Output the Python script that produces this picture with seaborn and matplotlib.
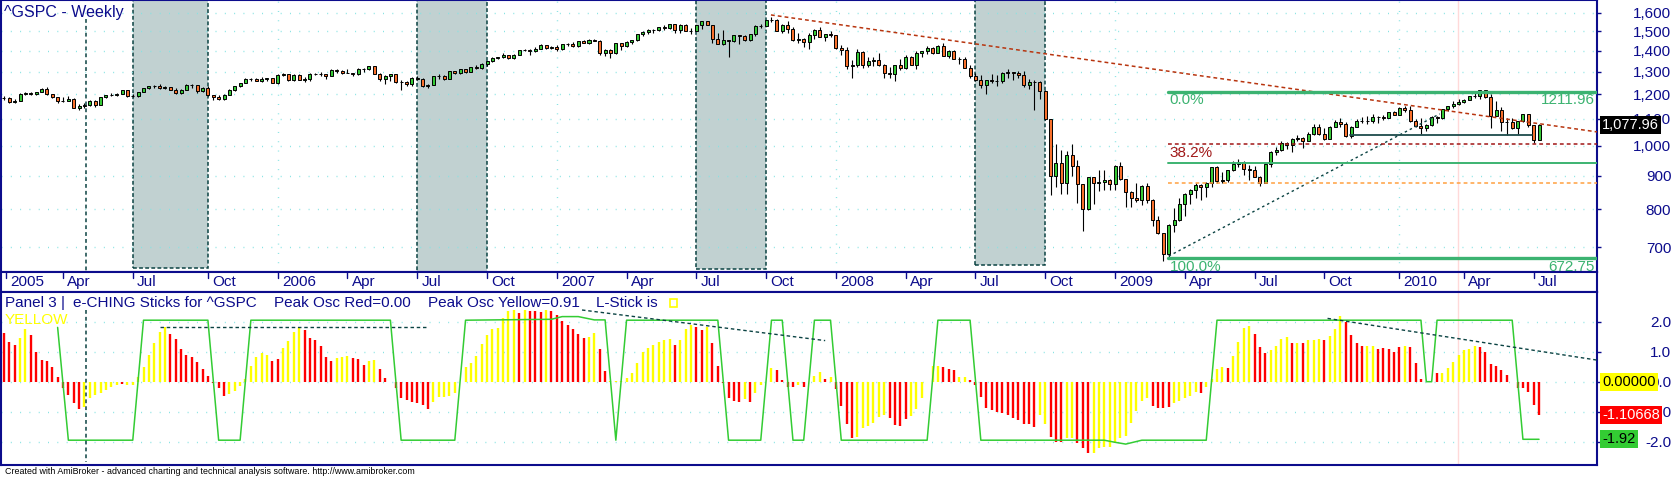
import numpy as np
import matplotlib
matplotlib.use("Agg")
import matplotlib.pyplot as plt
import matplotlib.transforms as mtransforms
from matplotlib.patches import Rectangle
from matplotlib.ticker import NullLocator, NullFormatter
import seaborn as sns

# tema base (fonte definida depois do seaborn)
sns.set_style("white")
plt.rcParams["font.family"] = ["Liberation Sans", "DejaVu Sans"]

# ===============================================================
# DADOS - ^GSPC semanal (jan/2005 .. jul/2010)
# ===============================================================
first_open = 1212

close_2005 = [1186, 1185, 1168, 1171, 1203, 1205, 1202, 1211, 1222, 1200, 1190, 1171, 1173, 1181, 1143, 1152, 1157,
              1171, 1154, 1189, 1199, 1196, 1201, 1217, 1192, 1194, 1212, 1228, 1234, 1234, 1226, 1230, 1220, 1205,
              1218, 1241, 1238, 1215, 1229, 1196, 1187, 1180, 1198, 1220, 1235, 1248, 1268, 1265, 1259, 1267, 1269, 1248]
high_2005 = [1217, 1194, 1188, 1180, 1204, 1208, 1212, 1212, 1225, 1230, 1201, 1190, 1189, 1191, 1186, 1159, 1162,
             1178, 1178, 1190, 1199, 1205, 1206, 1220, 1219, 1201, 1212, 1229, 1236, 1238, 1245, 1237, 1232, 1226,
             1222, 1243, 1243, 1238, 1232, 1234, 1197, 1198, 1200, 1223, 1235, 1249, 1269, 1270, 1273, 1275, 1272, 1270]
low_2005 = [1183, 1176, 1163, 1163, 1170, 1196, 1198, 1198, 1210, 1198, 1185, 1163, 1166, 1172, 1142, 1137, 1143,
            1150, 1146, 1154, 1185, 1191, 1192, 1200, 1190, 1188, 1190, 1210, 1224, 1228, 1224, 1222, 1217, 1203,
            1201, 1218, 1228, 1205, 1212, 1192, 1176, 1176, 1175, 1198, 1216, 1230, 1247, 1257, 1256, 1255, 1260, 1248]

close_2006 = [1285, 1288, 1261, 1284, 1264, 1267, 1287, 1289, 1287, 1281, 1307, 1303, 1295, 1296, 1289, 1311, 1311,
              1326, 1291, 1267, 1280, 1288, 1252, 1252, 1245, 1270, 1265, 1236, 1240, 1279, 1279, 1267, 1302, 1295,
              1311, 1299, 1320, 1315, 1336, 1350, 1366, 1369, 1377, 1364, 1381, 1401, 1401, 1397, 1410, 1427, 1411, 1418]
high_2006 = [1290, 1295, 1290, 1287, 1287, 1275, 1292, 1294, 1297, 1288, 1310, 1310, 1307, 1310, 1296, 1318, 1318,
             1327, 1326, 1295, 1285, 1290, 1288, 1262, 1259, 1275, 1280, 1270, 1246, 1280, 1288, 1283, 1302, 1303,
             1312, 1314, 1320, 1329, 1340, 1350, 1367, 1370, 1390, 1381, 1385, 1403, 1407, 1407, 1416, 1431, 1430, 1425]
low_2006 = [1245, 1280, 1260, 1259, 1262, 1253, 1260, 1283, 1279, 1268, 1281, 1295, 1291, 1294, 1280, 1285, 1300,
            1306, 1290, 1260, 1245, 1260, 1248, 1219, 1235, 1237, 1261, 1231, 1225, 1238, 1265, 1262, 1267, 1289,
            1290, 1294, 1297, 1310, 1314, 1327, 1346, 1357, 1364, 1360, 1360, 1378, 1396, 1377, 1394, 1407, 1406, 1406]

close_2007 = [1410, 1431, 1431, 1422, 1448, 1438, 1456, 1451, 1387, 1403, 1387, 1436, 1421, 1444, 1453, 1484, 1494,
              1506, 1506, 1523, 1516, 1536, 1508, 1533, 1503, 1503, 1530, 1553, 1534, 1459, 1433, 1454, 1446, 1479,
              1474, 1454, 1484, 1526, 1527, 1558, 1562, 1501, 1535, 1510, 1454, 1459, 1441, 1481, 1505, 1468, 1484, 1478]
high_2007 = [1430, 1432, 1436, 1441, 1450, 1453, 1457, 1461, 1456, 1410, 1409, 1438, 1437, 1446, 1453, 1485, 1499,
             1510, 1513, 1523, 1530, 1536, 1540, 1539, 1538, 1514, 1534, 1555, 1556, 1534, 1488, 1504, 1456, 1480,
             1481, 1482, 1485, 1530, 1538, 1560, 1576, 1565, 1536, 1552, 1521, 1492, 1462, 1488, 1510, 1523, 1485, 1499]
low_2007 = [1398, 1404, 1424, 1416, 1420, 1437, 1431, 1448, 1380, 1374, 1364, 1384, 1405, 1418, 1433, 1448, 1476,
            1484, 1490, 1498, 1505, 1510, 1490, 1492, 1502, 1484, 1500, 1510, 1530, 1440, 1432, 1430, 1371, 1445,
            1432, 1450, 1450, 1475, 1516, 1527, 1548, 1500, 1490, 1492, 1450, 1439, 1416, 1406, 1460, 1467, 1446, 1468]

close_2008 = [1412, 1401, 1325, 1331, 1395, 1331, 1350, 1353, 1331, 1293, 1288, 1330, 1315, 1370, 1333, 1390, 1398,
              1414, 1388, 1425, 1376, 1400, 1361, 1360, 1318, 1278, 1263, 1239, 1261, 1258, 1260, 1296, 1298, 1292,
              1283, 1242, 1252, 1255, 1213, 1099, 899, 941, 877, 969, 931, 873, 800, 896, 876, 880, 888, 873]
high_2008 = [1478, 1429, 1420, 1355, 1406, 1396, 1368, 1367, 1389, 1335, 1321, 1331, 1359, 1380, 1375, 1396, 1399,
             1421, 1416, 1426, 1440, 1405, 1404, 1371, 1370, 1333, 1292, 1285, 1262, 1291, 1285, 1300, 1314, 1300,
             1304, 1303, 1266, 1263, 1256, 1220, 1099, 1007, 985, 984, 1007, 952, 873, 897, 896, 918, 919, 889]
low_2008 = [1410, 1380, 1312, 1270, 1322, 1316, 1321, 1327, 1326, 1272, 1270, 1257, 1308, 1313, 1330, 1314, 1370,
            1385, 1382, 1386, 1373, 1362, 1358, 1335, 1316, 1272, 1260, 1226, 1200, 1250, 1236, 1247, 1269, 1261,
            1270, 1233, 1222, 1134, 1180, 1097, 840, 866, 845, 845, 900, 819, 741, 798, 815, 852, 857, 857]

close_2009 = [932, 890, 850, 832, 826, 869, 827, 770, 735, 683, 757, 769, 816, 843, 857, 870, 866, 878, 929, 883,
              887, 919, 940, 946, 921, 919, 896, 879, 940, 979, 987, 1010, 1004, 1026, 1029, 1016, 1043, 1068, 1044,
              1025, 1071, 1088, 1080, 1036, 1069, 1093, 1091, 1091, 1106, 1106, 1102, 1126, 1115]
high_2009 = [935, 944, 890, 852, 878, 870, 876, 828, 780, 735, 758, 804, 832, 846, 859, 876, 875, 882, 930, 932,
             911, 920, 950, 956, 947, 934, 931, 898, 943, 982, 996, 1018, 1013, 1028, 1040, 1031, 1049, 1080, 1080,
             1066, 1072, 1097, 1102, 1087, 1074, 1100, 1106, 1111, 1119, 1110, 1117, 1127, 1130]
low_2009 = [857, 888, 805, 805, 822, 812, 818, 754, 734, 667, 673, 739, 767, 780, 814, 831, 826, 836, 866, 878,
            879, 880, 917, 930, 904, 888, 896, 869, 878, 930, 969, 984, 990, 979, 1016, 992, 1016, 1041, 1041,
            1020, 1026, 1070, 1071, 1034, 1030, 1069, 1085, 1080, 1086, 1085, 1095, 1102, 1115]

close_2010 = [1145, 1136, 1092, 1074, 1066, 1076, 1109, 1104, 1139, 1150, 1160, 1167, 1178, 1194, 1192, 1217, 1187,
              1111, 1136, 1088, 1089, 1065, 1092, 1118, 1077, 1023, 1078]
high_2010 = [1146, 1150, 1150, 1101, 1104, 1080, 1112, 1112, 1139, 1151, 1170, 1181, 1181, 1194, 1214, 1220, 1220,
             1200, 1173, 1148, 1104, 1105, 1092, 1120, 1119, 1078, 1080]
low_2010 = [1115, 1127, 1090, 1071, 1045, 1056, 1074, 1086, 1101, 1133, 1145, 1155, 1165, 1175, 1186, 1181, 1185,
            1066, 1111, 1056, 1040, 1060, 1043, 1088, 1071, 1011, 1022]

# e-CHING sticks (histograma) e cor de cada barra (R = vermelho, Y = amarelo)
osc_2005 = [1.70, 1.63, 1.33, 1.22, 1.44, 1.74, 1.56, 1.00, 0.72, 0.70, 0.48, 0.14, -0.22, -0.44, -0.70, -0.92,
            -0.83, -0.56, -0.44, -0.37, -0.28, -0.17, -0.11, -0.08, -0.11, -0.11, 0.17, 0.50, 0.89, 1.30, 1.64,
            1.81, 1.59, 1.41, 1.09, 0.89, 0.81, 0.64, 0.41, 0.19, -0.05, -0.22, -0.48, -0.41, -0.31, -0.14, 0.10,
            0.52, 0.81, 0.97, 0.89, 0.70]
osc_2006 = [0.74, 1.11, 1.37, 1.67, 1.81, 1.72, 1.47, 1.39, 1.19, 0.81, 0.70, 0.78, 0.81, 0.86, 0.80, 0.74, 0.56,
            0.70, 0.72, 0.42, 0.13, 0.00, -0.20, -0.56, -0.61, -0.67, -0.70, -0.78, -0.92, -0.67, -0.52, -0.52,
            -0.48, -0.37, 0.00, 0.50, 0.61, 0.86, 1.26, 1.56, 1.74, 1.78, 2.11, 2.37, 2.39, 2.30, 2.39, 2.37, 2.37,
            2.33, 2.39, 2.37]
osc_2007 = [2.22, 2.03, 1.89, 1.74, 1.59, 1.44, 1.50, 1.63, 1.09, 0.37, 0.02, 0.02, 0.03, 0.11, 0.30, 0.61, 1.00,
            1.11, 1.22, 1.33, 1.39, 1.42, 1.22, 1.39, 1.74, 1.89, 1.81, 1.72, 1.83, 1.30, 0.52, -0.05, -0.56, -0.63,
            -0.67, -0.59, -0.67, -0.39, -0.11, 0.00, 0.47, 0.39, 0.06, -0.17, -0.19, -0.11, -0.19, 0.00, 0.19, 0.33,
            0.10, 0.14]
osc_2008 = [-0.26, -0.81, -1.41, -1.89, -1.83, -1.56, -1.48, -1.39, -1.19, -1.11, -1.22, -1.44, -1.47, -1.26, -1.13,
            -0.92, -0.53, 0.00, 0.52, 0.53, 0.48, 0.42, 0.39, 0.14, 0.14, 0.06, -0.10, -0.50, -0.89, -0.94, -1.00,
            -1.06, -1.11, -1.22, -1.28, -1.41, -1.41, -1.52, -1.11, -1.41, -1.83, -2.00, -2.00, -1.89, -1.89, -2.03,
            -2.22, -2.37, -2.37, -2.22, -2.17, -2.17]
osc_2009 = [-2.06, -1.89, -1.81, -1.39, -0.97, -0.64, -0.53, -0.80, -0.89, -0.87, -0.86, -0.70, -0.63, -0.56, -0.47,
            -0.33, -0.39, -0.17, 0.10, 0.43, 0.50, 0.47, 0.86, 1.33, 1.78, 1.86, 1.59, 1.17, 0.97, 1.06, 1.19, 1.41,
            1.48, 1.30, 1.28, 1.28, 1.39, 1.39, 1.42, 1.39, 1.52, 1.74, 2.19, 2.00, 1.56, 1.30, 1.19, 1.19, 1.20,
            1.08, 1.11, 1.09, 1.00]
osc_2010 = [1.17, 1.19, 1.14, 0.61, 0.09, 0.00, 0.00, 0.28, 0.28, 0.44, 0.67, 0.89, 1.06, 1.09, 1.19, 1.14, 1.00,
            0.58, 0.53, 0.39, 0.22, 0.00, -0.22, -0.22, -0.36, -0.78, -1.11]

cor_2005 = "RRRR" + "YY" + "RRRRRRRRRR" + "YYYYYYY" + "R" + "YYYYYYYY" + "RRRRRRRRRRR" + "YYYYYYYY" + "R"
cor_2006 = "R" + "YYYY" + "RRRRRR" + "YYY" + "RRR" + "YY" + "RRRRRRRRRR" + "YYYYYYYYYYYYYYYY" + "R" + "Y" + "RRR" + "Y" + "R"
cor_2007 = ("RRRRRR" + "YY" + "RR" + "YYYYYYYYYYYY" + "R" + "YYY" + "RR" + "Y" + "RRRRRR" + "Y" + "R" + "YYYY"
            + "RRRR" + "Y" + "R" + "YYY" + "R" + "Y")
cor_2008 = "RRRR" + "YYYYYY" + "RRRR" + "YYYYYY" + "RRR" + "YY" + "RRRRRRRRRRRRR" + "YY" + "RRR" + "YY" + "RRR" + "YYYY"
cor_2009 = ("YYYYYYY" + "RRRR" + "YYYYY" + "R" + "YYYY" + "R" + "YYYY" + "RRR" + "YYYY" + "R" + "Y" + "R" + "YYY"
            + "R" + "YYY" + "RRRR" + "YY" + "RRRR")
cor_2010 = "R" + "Y" + "RRRRRR" + "YYYYYYY" + "RRRRRRRRRRRR"

# linha verde (vertices: semana, valor)
green_x = [11, 13, 25, 27, 39, 41, 45, 47, 73, 75, 85, 87, 103, 105, 108, 111, 113, 115, 117, 134, 136, 142, 144,
           146, 148, 150, 152, 155, 157, 173, 175, 181, 183, 206, 208, 210, 213, 225, 227, 265, 266, 267, 268, 282,
           284, 287]
green_y = [1.81, -1.95, -1.95, 2.05, 2.05, -1.95, -1.95, 2.05, 2.05, -1.95, -1.95, 2.05, 2.08, 2.17, 2.17, 2.06,
           2.06, -1.95, 2.05, 2.05, -1.95, -1.95, 2.05, 2.05, -1.95, -1.95, 2.05, 2.05, -1.95, -1.95, 2.05, 2.05,
           -1.95, -1.95, -2.02, -2.08, -1.95, -1.95, 2.05, 2.05, 0.0, 0.0, 2.05, 2.05, -1.92, -1.92]

# eixo de datas
tick_pos = [1.4, 12, 25, 39, 52, 65, 78, 91, 104, 117, 130, 143, 156, 169, 182, 195, 208, 221, 234, 247, 261, 273, 286]
tick_lab = ["2005", "Apr", "Jul", "Oct", "2006", "Apr", "Jul", "Oct", "2007", "Apr", "Jul", "Oct",
            "2008", "Apr", "Jul", "Oct", "2009", "Apr", "Jul", "Oct", "2010", "Apr", "Jul"]
year_pos = [52, 104, 156, 208, 261]

# faixas sombreadas (jul-out) e base de cada uma
box_x0 = [25, 78, 130, 182]
box_x1 = [39, 91, 143, 195]
box_bottom = [650, 641, 648, 657]

price_ticks = [700, 800, 900, 1000, 1100, 1200, 1300, 1400, 1500, 1600]
price_labels = ["700", "800", "900", "1,000", "1,100", "1,200", "1,300", "1,400", "1,500", "1,600"]
osc_ticks = [-2, -1, 0, 1, 2]
osc_labels = ["-2.0", "-1.0", "0.0", "1.0", "2.0"]

# niveis de Fibonacci
fib_levels = [1211.96, 1005.98, 942.35, 878.73, 672.75]
fib_start = 217.9

# ===============================================================
# MONTAGEM
# ===============================================================
close = np.array(close_2005 + close_2006 + close_2007 + close_2008 + close_2009 + close_2010, dtype=float)
high = np.array(high_2005 + high_2006 + high_2007 + high_2008 + high_2009 + high_2010, dtype=float)
low = np.array(low_2005 + low_2006 + low_2007 + low_2008 + low_2009 + low_2010, dtype=float)
opn = np.concatenate([[first_open], close[:-1]])   # abertura semanal ~ fechamento anterior
osc = np.array(osc_2005 + osc_2006 + osc_2007 + osc_2008 + osc_2009 + osc_2010)
cores = cor_2005 + cor_2006 + cor_2007 + cor_2008 + cor_2009 + cor_2010
x = np.arange(len(close))

W, H = 1674, 478
NAVY = "#0c0c8c"
GRID = "#86e3e3"
TEAL = "#0b4343"
UP_C, DN_C = "#36c936", "#f8702c"
FIB_G = "#3cb371"
XL = (0.45, 297.8)
LABEL_PAD = 50.5


def fx(px):
    return px / W


def fy(py):
    return 1 - py / H


def spines(a):
    for s in a.spines.values():
        s.set_color(NAVY)
        s.set_linewidth(1.5)


def right_labels(a):
    # rotulos do eixo direito alinhados pela direita (como no AmiBroker)
    for t in a.yaxis.get_major_ticks():
        t.label2.set_horizontalalignment("right")


fig = plt.figure(figsize=(W / 100, H / 100), dpi=100)
ax = fig.add_axes([fx(1), fy(272), 1596 / W, 272 / H])
axd = fig.add_axes([fx(1), fy(292), 1596 / W, 20 / H])
axo = fig.add_axes([fx(1), fy(465), 1596 / W, 173 / H])

# ---------------- painel de precos ----------------
ax.set_yscale("log")
ax.set_xlim(*XL)
ax.set_ylim(641, 1674)

for v in price_ticks:
    ax.axhline(v, color=GRID, lw=1.0, ls=(0, (0.7, 6.0)), zorder=1.5)
for v in year_pos:
    ax.axvline(v, color=GRID, lw=1.0, ls=(0, (0.7, 6.0)), zorder=1.5)

for a0, a1, b in zip(box_x0, box_x1, box_bottom):
    ax.add_patch(Rectangle((a0, b), a1 - a0, 1674 - b, facecolor="#c1d1d1", edgecolor=TEAL,
                           linestyle=(0, (2.5, 1.5)), linewidth=1.1, zorder=1))

for a in (ax, axd, axo):
    a.axvline(271.9, color="#ffd9d9", lw=1.0, zorder=0.8)

up = close >= opn
base = np.minimum(opn, close)
alt = np.abs(close - opn)
ax.vlines(x, low, high, color="black", lw=0.8, zorder=3)
ax.bar(x[up], alt[up], bottom=base[up], width=0.56, color=UP_C, edgecolor="black", linewidth=0.7, zorder=4)
ax.bar(x[~up], alt[~up], bottom=base[~up], width=0.56, color=DN_C, edgecolor="black", linewidth=0.7, zorder=4)

# linhas de tendencia
ax.plot([143.9, 297.8], [1588, 1051], color="#b8350f", lw=1.1, ls=(0, (2.5, 2.0)), zorder=5)
ax.plot([218.0, 268.5], [678, 1120], color=TEAL, lw=1.0, ls=(0, (1.8, 2.2)), zorder=5)
ax.plot([251.8, 285.7], [1038, 1038], color="#1d4b4b", lw=1.3, zorder=5)
ax.plot([16.23, 16.23], [1566, 641], color=TEAL, lw=1.1, ls=(0, (2.5, 2.0)), zorder=5)

# Fibonacci
fib_style = [(FIB_G, 2.4, "-"), ("#a01818", 1.1, (0, (2.5, 2))), (FIB_G, 1.4, "-"),
             ("#ffa040", 1.1, (0, (2.5, 2))), (FIB_G, 2.4, "-")]
for lvl, (c, lw, ls) in zip(fib_levels, fib_style):
    ax.plot([fib_start, XL[1]], [lvl, lvl], color=c, lw=lw, ls=ls, zorder=6)

ax.annotate("0.0%", xy=(fib_start, fib_levels[0]), xytext=(1, -1), textcoords="offset points",
            ha="left", va="top", color=FIB_G, fontsize=11)
ax.annotate("1211.96", xy=(XL[1], fib_levels[0]), xytext=(-1.5, -1), textcoords="offset points",
            ha="right", va="top", color=FIB_G, fontsize=11)
ax.annotate("38.2%", xy=(fib_start, fib_levels[1]), xytext=(1, -1), textcoords="offset points",
            ha="left", va="top", color="#a01818", fontsize=11)
t1 = ax.annotate("100.0%", xy=(fib_start, fib_levels[4]), xytext=(1, -1), textcoords="offset points",
                 ha="left", va="top", color=FIB_G, fontsize=11)
t2 = ax.annotate("672.75", xy=(XL[1], fib_levels[4]), xytext=(-1.5, -1), textcoords="offset points",
                 ha="right", va="top", color=FIB_G, fontsize=11)
t1.set_clip_on(True)
t2.set_clip_on(True)

ax.text(3 / 1596, 0.939, "^GSPC - Weekly", transform=ax.transAxes, color=NAVY,
        fontsize=11.5, ha="left", va="baseline", zorder=10)

ax.set_xticks([])
ax.yaxis.tick_right()
ax.set_yticks(price_ticks, price_labels)
ax.yaxis.set_minor_locator(NullLocator())
ax.yaxis.set_minor_formatter(NullFormatter())
ax.tick_params(axis="y", which="major", right=True, direction="out", length=3, width=1,
               color=NAVY, labelcolor=NAVY, labelsize=11, pad=LABEL_PAD)
right_labels(ax)
spines(ax)

tr = mtransforms.blended_transform_factory(ax.transAxes, ax.transData)
ax.text(1.0033, close[-1], "1,077.96", transform=tr, ha="left", va="center", color="white", fontsize=10.5,
        bbox=dict(boxstyle="square,pad=0.15", fc="black", ec="none"), zorder=20, clip_on=False)

# ---------------- linha de datas ----------------
axd.set_xlim(*XL)
axd.set_ylim(0, 1)
axd.set_xticks([])
axd.set_yticks([])
for p, lab in zip(tick_pos, tick_lab):
    axd.plot([p, p], [1, 0.72], color=NAVY, lw=1.0)
    axd.annotate(lab, xy=(p, 0.28), xytext=(3, 0), textcoords="offset points",
                 ha="left", va="baseline", color=NAVY, fontsize=11)
spines(axd)

# ---------------- painel 3 (oscilador) ----------------
axo.set_xlim(*XL)
axo.set_ylim(-2.777, 2.99)
for v in osc_ticks:
    axo.axhline(v, color=GRID, lw=1.0, ls=(0, (0.7, 6.0)), zorder=1)

cmap = {"R": "#ff0000", "Y": "#ffff00"}
axo.vlines(x, 0, osc, colors=[cmap[c] for c in cores], lw=1.7, zorder=3)
sns.lineplot(x=green_x, y=green_y, ax=axo, color="#33cc33", lw=1.1, sort=False, estimator=None,
             legend=False, zorder=4)

axo.plot([30, 80], [1.81, 1.81], color=TEAL, lw=1.0, ls=(0, (2.5, 2.0)), zorder=5)
axo.plot([108.7, 154], [2.39, 1.37], color=TEAL, lw=1.0, ls=(0, (2.5, 2.0)), zorder=5)
axo.plot([247.6, 297.8], [2.11, 0.72], color=TEAL, lw=1.0, ls=(0, (2.5, 2.0)), zorder=5)
axo.plot([16.23, 16.23], [2.39, -2.67], color=TEAL, lw=1.1, ls=(0, (2.5, 2.0)), zorder=5)

axo.set_xlabel("")
axo.set_ylabel("")
axo.set_xticks([])
axo.yaxis.tick_right()
axo.set_yticks(osc_ticks, osc_labels)
axo.tick_params(axis="y", which="major", right=True, direction="out", length=3, width=1,
                color=NAVY, labelcolor=NAVY, labelsize=11, pad=LABEL_PAD)
right_labels(axo)
spines(axo)

for px, txt in [(5, "Panel 3 |"), (73, "e-CHING Sticks for ^GSPC"), (274, "Peak Osc Red=0.00"),
                (428, "Peak Osc Yellow=0.91"), (596, "L-Stick is")]:
    axo.text((px - 1) / 1596, 0.915, txt, transform=axo.transAxes, color=NAVY, fontsize=11,
             ha="left", va="baseline", zorder=10)
axo.text(4 / 1596, 0.815, "YELLOW", transform=axo.transAxes, color="#ffff00", fontsize=11,
         ha="left", va="baseline", zorder=10)
fig.add_artist(Rectangle((fx(670), fy(307)), 7 / W, 8 / H, transform=fig.transFigure,
                         fill=False, edgecolor="#ffff00", lw=1.2))

tro = mtransforms.blended_transform_factory(axo.transAxes, axo.transData)
for val, txt, fc, tc in [(0.0, "0.00000", "#ffff00", "black"), (-1.10668, "-1.10668", "#ff0000", "white"),
                         (-1.92, "-1.92", "#33cc33", "black")]:
    axo.text(1.0033, val, txt, transform=tro, ha="left", va="center", color=tc, fontsize=10.5,
             bbox=dict(boxstyle="square,pad=0.15", fc=fc, ec="none"), zorder=20, clip_on=False)

fig.text(fx(5), fy(472), "Created with AmiBroker - advanced charting and technical analysis software. "
         "http://www.amibroker.com", fontsize=6.4, color="black", ha="left", va="center")

fig.savefig("out.png", dpi=100)
